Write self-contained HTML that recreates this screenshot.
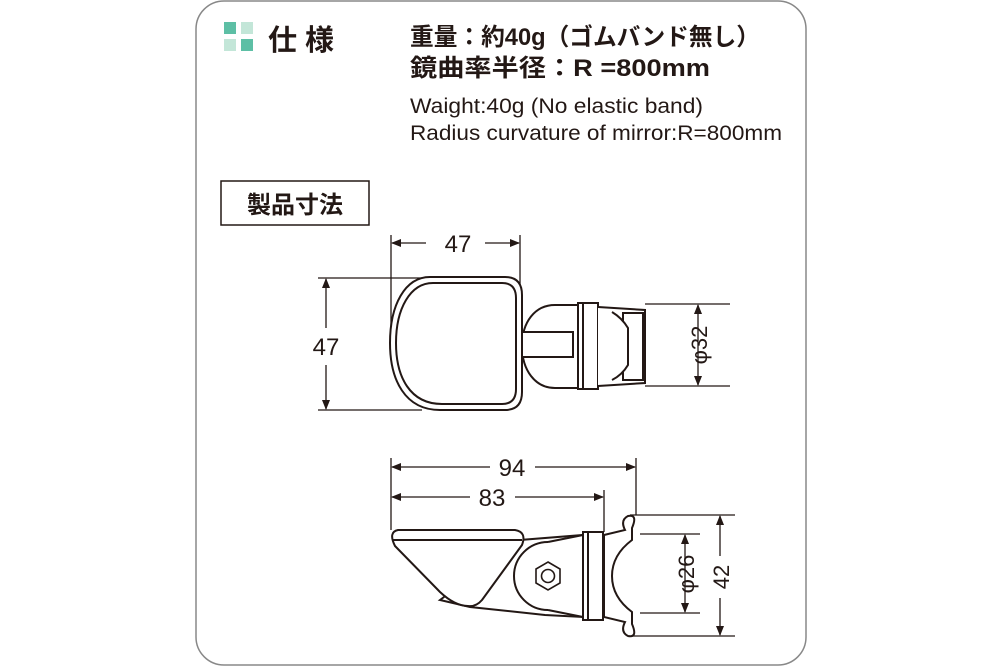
<!DOCTYPE html>
<html><head><meta charset="utf-8"><style>
body{margin:0;background:#fff;}
svg text{font-family:"Liberation Sans","Noto Sans CJK JP",sans-serif;fill:#231815;}
</style></head><body>
<svg width="1000" height="667" viewBox="0 0 1000 667" xmlns="http://www.w3.org/2000/svg">
<rect x="196" y="1" width="610" height="664" rx="28" fill="#fff" stroke="#888" stroke-width="1.5"/>
<rect x="224" y="22" width="12" height="12" fill="#5dbfa5"/>
<rect x="241" y="22" width="12" height="12" fill="#c3e6d8"/>
<rect x="224" y="39" width="12" height="12" fill="#c3e6d8"/>
<rect x="241" y="39" width="12" height="12" fill="#5dbfa5"/>
<text x="268" y="50" font-size="29" font-weight="bold" letter-spacing="8">仕様</text>
<text x="410" y="45" font-size="24" font-weight="bold" textLength="350" lengthAdjust="spacingAndGlyphs">重量：約40g（ゴムバンド無し）</text>
<text x="410" y="76" font-size="24" font-weight="bold" textLength="300" lengthAdjust="spacingAndGlyphs">鏡曲率半径：R =800mm</text>
<text x="410" y="113" font-size="21" textLength="293" lengthAdjust="spacingAndGlyphs">Waight:40g (No elastic band)</text>
<text x="410" y="140" font-size="21" textLength="372" lengthAdjust="spacingAndGlyphs">Radius curvature of mirror:R=800mm</text>
<rect x="221" y="181" width="148" height="44" fill="none" stroke="#231815" stroke-width="1.5"/>
<text x="295" y="213" font-size="24" font-weight="bold" text-anchor="middle">製品寸法</text>
<defs><marker id="a" markerWidth="10" markerHeight="8" refX="9" refY="4" orient="auto-start-reverse" markerUnits="userSpaceOnUse"><path d="M0 0 L10 4 L0 8 Z" fill="#231815"/></marker></defs>
<g stroke="#231815" fill="none" stroke-width="1.3">
<line x1="391" y1="235" x2="391" y2="330"/><line x1="520" y1="235" x2="520" y2="290"/>
<line x1="392" y1="243" x2="426" y2="243" marker-start="url(#a)"/><line x1="485" y1="243" x2="519" y2="243" marker-end="url(#a)"/>
<line x1="318" y1="278" x2="422" y2="278"/><line x1="318" y1="410" x2="422" y2="410"/>
<line x1="326" y1="279" x2="326" y2="328" marker-start="url(#a)"/><line x1="326" y1="365" x2="326" y2="409" marker-end="url(#a)"/>
<line x1="645" y1="304" x2="730" y2="304"/><line x1="645" y1="386" x2="730" y2="386"/>
<line x1="698" y1="305" x2="698" y2="385" marker-start="url(#a)" marker-end="url(#a)"/>
<line x1="391" y1="458" x2="391" y2="530"/><line x1="604" y1="490" x2="604" y2="532"/><line x1="636" y1="458" x2="636" y2="515"/>
<line x1="392" y1="467" x2="490" y2="467" marker-start="url(#a)"/><line x1="535" y1="467" x2="635" y2="467" marker-end="url(#a)"/>
<line x1="392" y1="497" x2="470" y2="497" marker-start="url(#a)"/><line x1="515" y1="497" x2="603" y2="497" marker-end="url(#a)"/>
<line x1="630" y1="515" x2="735" y2="515"/><line x1="630" y1="636" x2="735" y2="636"/>
<line x1="640" y1="534" x2="700" y2="534"/><line x1="640" y1="613" x2="700" y2="613"/>
<line x1="685" y1="535" x2="685" y2="612" marker-start="url(#a)" marker-end="url(#a)"/>
<line x1="720" y1="516" x2="720" y2="556" marker-start="url(#a)"/><line x1="720" y1="598" x2="720" y2="635" marker-end="url(#a)"/>
</g>
<text x="458" y="252" font-size="24" text-anchor="middle">47</text>
<text x="326" y="355" font-size="24" text-anchor="middle">47</text>
<text x="512" y="476" font-size="24" text-anchor="middle">94</text>
<text x="492" y="506" font-size="24" text-anchor="middle">83</text>
<text transform="translate(707,345) rotate(-90)" font-size="22" text-anchor="middle">φ32</text>
<text transform="translate(694,574) rotate(-90)" font-size="22" text-anchor="middle">φ26</text>
<text transform="translate(729,577) rotate(-90)" font-size="22" text-anchor="middle">42</text>
<g stroke="#231815" fill="#fff" stroke-width="2">
<path d="M555 305 L578 305 L578 388 L555 388 C535 388 522 370 522 346 C522 322 535 305 555 305 Z"/>
<rect x="522" y="332" width="51" height="25"/>
<rect x="578" y="303" width="20" height="86"/>
<line x1="583" y1="303" x2="583" y2="389"/>
<path d="M598 307 L645 310 L645 383 L598 386"/>
<rect x="623" y="313" width="20" height="67"/>
<path d="M612 312 Q622 318 628 328 L628 365 Q622 375 612 380"/>
<path d="M430 277 L505 277 Q522 277 522 295 L522 392 Q522 410 505 410 L440 410 C405 410 390 380 390 343 C390 305 405 277 430 277 Z"/>
<path d="M433 283 L502 283 Q516 283 516 298 L516 389 Q516 404 502 404 L442 404 C410 404 396 377 396 343 C396 309 410 283 433 283 Z"/>
<path d="M440 600 L520 540 L583 535 L583 617 L545 615 L470 607 Z"/>
<circle cx="548" cy="576" r="34"/>
<path d="M548 542 L583 535 L583 617 L548 610"/>
<polygon points="548,562 560,569 560,583 548,590 536,583 536,569" stroke-width="1.6"/>
<circle cx="548" cy="576" r="6.5" stroke-width="1.6"/>
<path d="M398 530 L515 530 Q527 532 522 545 L482 600 Q476 607 468 606 Q455 606 440 592 L395 546 Q388 532 398 530 Z"/>
<line x1="392" y1="540" x2="522" y2="540"/>
<path d="M604 535 L625 530 Q620 520 628 516 Q638 514 632 528 L632 540 Q612 555 612 576 Q612 597 632 612 L632 624 Q638 638 628 636 Q620 632 625 622 L604 617 Z"/>
<rect x="583" y="532" width="20" height="88"/>
<line x1="588" y1="532" x2="588" y2="620"/>
</g>
</svg>
</body></html>
